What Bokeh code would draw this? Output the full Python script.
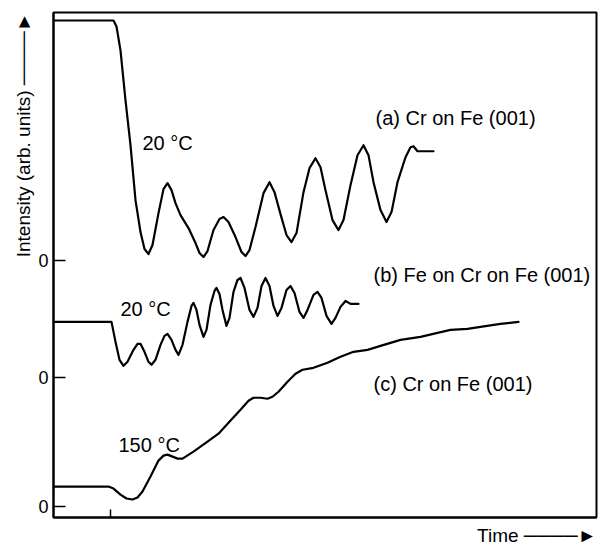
from bokeh.plotting import figure
from bokeh.models import Range1d, FixedTicker, Label, Title
from bokeh.embed import file_html
from bokeh.resources import INLINE

# ---- data (time and intensity in arbitrary units) ----
# (a) Cr on Fe (001), 20 C
time_a = [1, 60, 63, 67, 72, 77, 82, 87, 91, 95, 99, 105, 110, 114, 118, 122, 127, 135, 142, 146,
          150, 154, 160, 166, 170, 175, 182, 188, 192, 196, 202, 210, 216, 221, 227, 233, 238, 243,
          250, 256, 262, 267, 272, 279, 285, 290, 297, 304, 310, 315, 320, 327, 333, 338, 344, 352,
          357, 360, 364, 380]
int_a = [240, 240, 234, 210, 160, 115, 60, 28, 11, 6, 15, 47, 71, 77, 70, 57, 45, 32, 17, 7,
         3, 9, 30, 41, 43, 38, 23, 8, 4, 10, 33, 67, 78, 68, 46, 25, 18, 27,
         68, 92, 102, 93, 70, 40, 30, 40, 75, 105, 115, 105, 78, 50, 38, 48, 78, 103,
         113, 114, 109, 109]

# (b) Fe on Cr on Fe (001), 20 C
time_b = [1, 58, 62, 66, 70, 74, 80, 84, 87, 91, 95, 98, 102, 107, 111, 114, 118, 122, 125, 129,
          134, 138, 140, 143, 146, 150, 153, 157, 161, 163, 166, 169, 173, 176, 180, 184, 187, 191,
          196, 200, 204, 208, 212, 216, 220, 224, 228, 233, 237, 241, 246, 250, 254, 260, 264, 268,
          273, 278, 282, 287, 292, 297, 305]
int_b = [56, 56, 36, 18, 12, 16, 28, 34, 34, 26, 16, 13, 18, 33, 42, 44, 38, 28, 23, 33,
         56, 72, 75, 68, 53, 41, 48, 73, 87, 90, 84, 68, 52, 60, 86, 98, 100, 90,
         68, 61, 70, 92, 100, 92, 72, 62, 70, 88, 92, 85, 66, 60, 68, 83, 86, 80,
         62, 54, 60, 71, 77, 74, 74]

# (c) Cr on Fe (001), 150 C
time_c = [1, 55, 60, 67, 73, 79, 84, 89, 97, 105, 110, 114, 119, 124, 129, 140, 154, 165, 175, 187,
          195, 200, 207, 214, 219, 225, 234, 242, 249, 260, 274, 287, 300, 314, 327, 347, 367, 384,
          397, 414, 427, 447, 465]
int_c = [20, 20, 18, 12, 8, 7, 9, 15, 30, 46, 51, 52, 50, 48, 48, 55, 65, 73, 84, 97,
         106, 109, 109, 108, 110, 115, 125, 133, 137, 139, 144, 150, 155, 157, 161, 167, 170, 174,
         177, 178, 180, 183, 185]

# baselines ("0" levels) of the three stacked traces
baseline_a = 258
baseline_b = 140
baseline_c = 11
zero_ticks = [baseline_c, baseline_b, baseline_a]
zero_labels = ["0", "0", "0"]
time_tick = [57]

labels_text = ["20 \u00b0C", "(a) Cr on Fe (001)", "(b) Fe on Cr on Fe (001)", "20 \u00b0C",
               "(c) Cr on Fe (001)", "150 \u00b0C"]
labels_x = [89, 322, 320, 67, 320, 65]
labels_y = [375, 400, 243, 209, 134, 73]

y_title = "Intensity (arb. units) \u2500\u2500\u2500\u2500\u25ba"
x_title = "Time \u2500\u2500\u2500\u2500\u25ba"

FONT = "Liberation Sans"

p = figure(width=598, height=550, x_range=Range1d(0, 543), y_range=Range1d(0, 506),
           output_backend="svg", toolbar_location=None,
           min_border_left=53, min_border_right=2, min_border_top=12, min_border_bottom=32)
p.grid.visible = False
p.outline_line_color = "black"
p.outline_line_width = 2
p.background_fill_color = "white"
p.border_fill_color = "white"

for t, iv, base in [(time_a, int_a, baseline_a), (time_b, int_b, baseline_b), (time_c, int_c, baseline_c)]:
    p.line([x for x in t], [base + v for v in iv], line_color="black", line_width=2.2,
           line_join="round", line_cap="round")

ya = p.yaxis[0]
ya.ticker = FixedTicker(ticks=zero_ticks)
ya.major_label_overrides = {k: s for k, s in zip(zero_ticks, zero_labels)}
ya.major_tick_in = 12
ya.major_tick_out = 0
ya.minor_tick_line_color = None
ya.axis_line_width = 2
ya.major_tick_line_width = 1.5
ya.major_label_text_font = FONT
ya.major_label_text_font_size = "18px"
ya.major_label_text_color = "black"
ya.major_label_standoff = 5

xa = p.xaxis[0]
xa.ticker = FixedTicker(ticks=time_tick)
xa.major_label_overrides = {time_tick[0]: ""}
xa.major_label_text_font_size = "1px"
xa.major_label_standoff = 0
xa.major_tick_in = 8
xa.major_tick_out = 0
xa.minor_tick_line_color = None
xa.axis_line_width = 2
xa.major_tick_line_width = 1.5

p.add_layout(Title(text=y_title, align="right", standoff=3, text_font=FONT,
                   text_font_size="19px", text_font_style="normal", text_color="black"), "left")
p.add_layout(Title(text=x_title, align="right", standoff=10, text_font=FONT,
                   text_font_size="19px", text_font_style="normal", text_color="black"), "below")

for s, x, y in zip(labels_text, labels_x, labels_y):
    p.add_layout(Label(x=x, y=y, text=s, text_font=FONT, text_font_size="20px",
                       text_color="black", text_align="left", text_baseline="middle"))

open("out.html", "w").write(file_html(p, INLINE))
